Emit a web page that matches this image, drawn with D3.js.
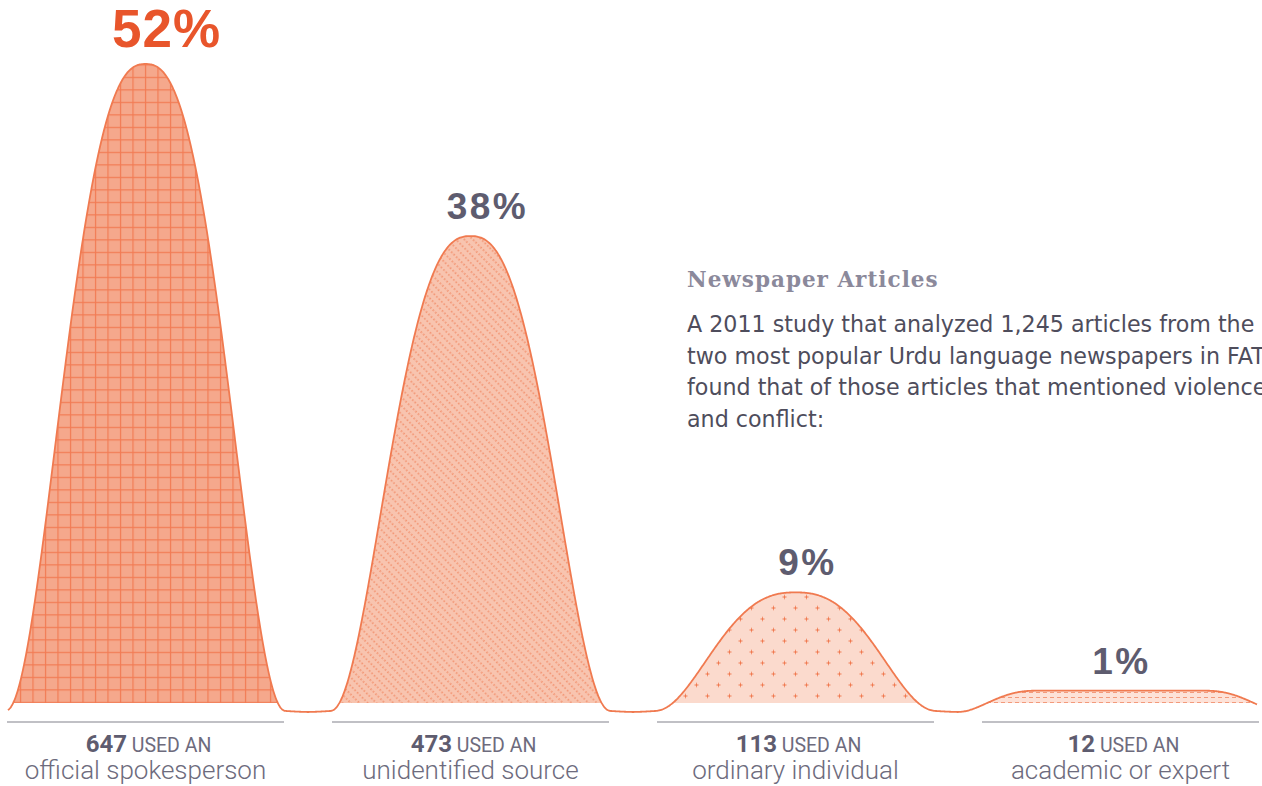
<!DOCTYPE html>
<html>
<head>
<meta charset="utf-8">
<script src="https://cdn.jsdelivr.net/npm/d3@7"></script>
<style>
  body { margin: 0; background: #fff; }
  svg { display: block; }
</style>
</head>
<body>
<div id="chart"></div>
<script>
const WIDTH = 1262;
const HEIGHT = 786;

// data
const counts = [647, 473, 113, 12];
const percents = [52, 38, 9, 1];
const sources = ["official spokesperson", "unidentified source", "ordinary individual", "academic or expert"];
const lead = "USED AN";
const title = "Newspaper Articles";
const blurb = [
  "A 2011 study that analyzed 1,245 articles from the",
  "two most popular Urdu language newspapers in FATA",
  "found that of those articles that mentioned violence",
  "and conflict:"
];

// layout
const BASE = 703;          // bottom of the filled humps
const DIP = 9;             // how far the line sags between humps
const pctShift = [21, 17, 12, 1];
const colors = { orange: "#e8552b", line: "#f07a50", dark: "#5e5c6f", soft: "#6d6b7d", rule: "#ababb2" };

const x = d3.scaleBand().domain(sources).range([-17, 1283]);
const y = d3.scaleLinear().domain([0, 52]).range([BASE, 64]);
const centers = sources.map(s => x(s) + x.bandwidth() / 2);
const half = x.bandwidth() / 2;

const svg = d3.select("#chart").append("svg")
    .attr("width", WIDTH)
    .attr("height", HEIGHT);
const defs = svg.append("defs");

/* fill patterns */
var p0 = defs.append("pattern").attr("id", "fill-0").attr("patternUnits", "userSpaceOnUse")
    .attr("width", 12.5).attr("height", 12.5).attr("x", centers[0] - 0.6).attr("y", BASE - 1.2);
p0.append("rect").attr("width", 12.5).attr("height", 12.5).attr("fill", "#f5a88c");
p0.append("path").attr("d", "M0,0.6H12.5M0.6,0V12.5")
    .attr("stroke", "#f27b54").attr("stroke-width", 1.2);

var p1 = defs.append("pattern").attr("id", "fill-1").attr("patternUnits", "userSpaceOnUse")
    .attr("width", 7).attr("height", 6).attr("patternTransform", "rotate(45)");
p1.append("rect").attr("width", 7).attr("height", 6).attr("fill", "#f8c4af");
p1.append("path").attr("d", "M0,3H7")
    .attr("stroke", "#ee6e42").attr("stroke-width", 1.2).attr("stroke-dasharray", "1.5,2");

var p2 = defs.append("pattern").attr("id", "fill-2").attr("patternUnits", "userSpaceOnUse")
    .attr("width", 22).attr("height", 22).attr("x", centers[2] - 5.5).attr("y", BASE - 12.5);
p2.append("rect").attr("width", 22).attr("height", 22).attr("fill", "#fbdacd");
p2.append("path").attr("d", "M3.5,5.5H7.5M5.5,3.5V7.5M14.5,16.5H18.5M16.5,14.5V18.5")
    .attr("stroke", "#f07a50").attr("stroke-width", 1);

var p3 = defs.append("pattern").attr("id", "fill-3").attr("patternUnits", "userSpaceOnUse")
    .attr("width", 7).attr("height", 5).attr("x", 0).attr("y", BASE - 3);
p3.append("rect").attr("width", 7).attr("height", 5).attr("fill", "#fde2d8");
p3.append("path").attr("d", "M0,2.5H7")
    .attr("stroke", "#f39a7b").attr("stroke-width", 1).attr("stroke-dasharray", "4,3");

/* hump shape: tiny shares get a flat top so they stay visible */
function flatOf(v) { return v < 5 ? 85 : 0; }
function profile(d, v) {
  var flat = flatOf(v);
  var tail = v < 5 ? 75 : 140;
  var u = Math.max(0, Math.abs(d) - flat) / tail;
  return u >= 1 ? 0 : Math.pow(1 - Math.pow(u, 2.5), 2.2);
}
// wider soft bell, used for the sag between humps
function sagOf(d, v) {
  var flat = flatOf(v);
  var u = Math.max(0, Math.abs(d) - flat) / (half - flat);
  return u >= 1 ? 0 : Math.pow(Math.cos(u * Math.PI / 2), 1.4);
}
function curveY(px) {
  var s = 0, lift = 0;
  percents.forEach((v, i) => {
    s += sagOf(px - centers[i], v);
    lift += (BASE - y(v)) * profile(px - centers[i], v);
  });
  return BASE + DIP * (1 - s) - lift;
}

const xs = d3.range(8, 1257.5, 1);

// filled humps, cut flat at the base
percents.forEach((v, i) => {
  var part = xs.filter(px => Math.abs(px - centers[i]) <= half);
  var area = d3.area()
      .x(d => d)
      .y0(BASE)
      .y1(d => Math.min(curveY(d), BASE));
  svg.append("path")
      .attr("class", "hump")
      .attr("d", area(part))
      .attr("fill", "url(#fill-" + i + ")");
});

// the one running line
svg.append("path")
    .attr("d", d3.line().curve(d3.curveBasis)(xs.map(px => [px, curveY(px)])))
    .attr("fill", "none")
    .attr("stroke", colors.line)
    .attr("stroke-width", 1.8);

// share labels
svg.selectAll(".pct")
  .data(percents)
  .join("text")
    .attr("class", "pct")
    .attr("x", (d, i) => centers[i] + pctShift[i])
    .attr("y", d => y(d) - 17)
    .attr("text-anchor", "middle")
    .attr("font-family", "'Liberation Sans', Arial, sans-serif")
    .attr("font-weight", "bold")
    .attr("font-size", (d, i) => i == 0 ? 53 : 37)
    .attr("letter-spacing", (d, i) => i == 0 ? 1 : 2.5)
    .attr("fill", (d, i) => i == 0 ? colors.orange : colors.dark)
    .text(d => d + "%");

// rules under each hump
svg.selectAll(".rule")
  .data(sources)
  .join("line")
    .attr("class", "rule")
    .attr("x1", d => x(d) + 24)
    .attr("x2", d => x(d) + x.bandwidth() - 24)
    .attr("y1", 722).attr("y2", 722)
    .attr("stroke", colors.rule)
    .attr("stroke-width", 1.5);

// bottom labels
var lab = svg.selectAll(".count")
  .data(sources)
  .join("text")
    .attr("class", "count")
    .attr("x", (d, i) => centers[i] + 3)
    .attr("y", 752)
    .attr("text-anchor", "middle")
    .attr("font-family", "Roboto, sans-serif");
lab.append("tspan")
    .attr("font-weight", "bold")
    .attr("font-size", 24)
    .attr("fill", colors.dark)
    .text((d, i) => counts[i]);
lab.append("tspan")
    .attr("font-size", 19.5)
    .attr("fill", colors.soft)
    .text(" " + lead);

svg.selectAll(".source")
  .data(sources)
  .join("text")
    .attr("class", "source")
    .attr("x", (d, i) => centers[i])
    .attr("y", 779)
    .attr("text-anchor", "middle")
    .attr("font-family", "Roboto, sans-serif")
    .attr("font-weight", 300)
    .attr("font-size", 26)
    .attr("fill", colors.soft)
    .text(d => d);

// note on the right
svg.append("text")
    .attr("x", 687).attr("y", 287)
    .attr("font-family", "'DejaVu Serif', serif")
    .attr("font-weight", "bold")
    .attr("font-size", 21.5)
    .attr("letter-spacing", 1)
    .attr("fill", "#8b899b")
    .text(title);

svg.append("g").selectAll("text")
  .data(blurb)
  .join("text")
    .attr("x", 687)
    .attr("y", (d, i) => 332 + i * 31.7)
    .attr("font-family", "'DejaVu Sans', sans-serif")
    .attr("font-size", 22.2)
    .attr("fill", "#4e4d5c")
    .text(d => d);
</script>
</body>
</html>
